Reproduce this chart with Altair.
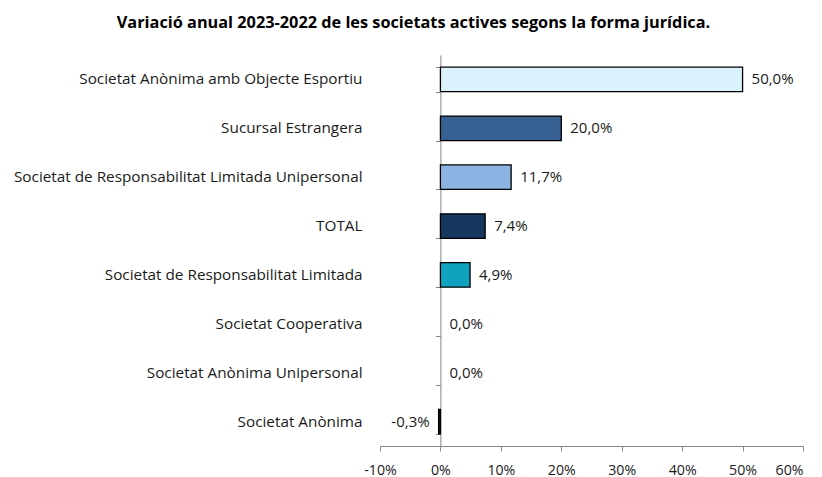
import altair as alt
import pandas as pd

categories = [
    "Societat Anònima amb Objecte Esportiu",
    "Sucursal Estrangera",
    "Societat de Responsabilitat Limitada Unipersonal",
    "TOTAL",
    "Societat de Responsabilitat Limitada",
    "Societat Cooperativa",
    "Societat Anònima Unipersonal",
    "Societat Anònima",
]
values = [50.0, 20.0, 11.7, 7.4, 4.9, 0.0, 0.0, -0.3]
colors = ["#DAF2FC", "#376092", "#8DB3E2", "#17375E", "#0FA3C0", "#1a1a1a", "#1a1a1a", "#1a1a1a"]
x_ticks = [-10, 0, 10, 20, 30, 40, 50, 60]

df = pd.DataFrame({"cat": categories, "v": values, "col": colors})

FONT = "Open Sans"
AXIS_GRAY = "#868686"
W, H = 423, 391

base = alt.Chart(df).transform_calculate(
    lab="replace(replace(format(datum.v/100, '.1%'), '.', ','), '\u2212', '-')"
)

yscale = alt.Scale(domain=categories, paddingInner=0.5, paddingOuter=0.25)
xscale = alt.Scale(domain=[-10, 60], nice=False)

bars = base.transform_filter("datum.v != 0").mark_bar(
    stroke="#000000", strokeWidth=1.3
).encode(
    x=alt.X("v:Q", scale=xscale, axis=alt.Axis(
        values=x_ticks,
        labelExpr="datum.value + '%'",
        grid=False, domainColor=AXIS_GRAY, tickColor=AXIS_GRAY,
        tickSize=5, labelPadding=12, labelFont=FONT, labelFontSize=14.2,
        labelColor="#1a1a1a", title=None, labelFlush=False,
        labelAlign=alt.ExprRef(expr="datum.value == 60 ? 'right' : 'center'"),
    )),
    y=alt.Y("cat:N", scale=yscale, sort=categories, axis=alt.Axis(
        orient="left", domain=False, ticks=False, tickSize=0, labelPadding=18,
        labelFont=FONT, labelFontSize=15.3, labelColor="#1a1a1a",
        title=None, labelLimit=400,
    )),
    color=alt.Color("col:N", scale=None),
)

yline = base.mark_tick(opacity=0).encode(
    y=alt.Y("cat:N", scale=yscale, sort=categories, axis=alt.Axis(
        orient="left", offset=-60.4, labels=False, domain=True,
        domainColor=AXIS_GRAY, ticks=True, tickColor=AXIS_GRAY, tickSize=5,
        tickBand="extent", title=None, grid=False,
    )),
    x=alt.X("v:Q", scale=xscale, axis=None),
)

text_pos = base.transform_filter("datum.v >= 0").mark_text(
    align="left", dx=9, font=FONT, fontSize=15, color="#1a1a1a"
).encode(
    x=alt.X("v:Q", scale=xscale, axis=None),
    y=alt.Y("cat:N", scale=yscale, sort=categories, axis=None),
    text="lab:N",
)

text_neg = base.transform_filter("datum.v < 0").mark_text(
    align="right", dx=-9, font=FONT, fontSize=15, color="#1a1a1a"
).encode(
    x=alt.X("v:Q", scale=xscale, axis=None),
    y=alt.Y("cat:N", scale=yscale, sort=categories, axis=None),
    text="lab:N",
)

chart = alt.layer(yline, bars, text_pos, text_neg).resolve_axis(
    y="independent", x="independent"
).properties(
    width=W, height=H,
    autosize=alt.AutoSizeParams(type="none"),
    padding={"left": 372, "top": 47, "right": 11, "bottom": 32},
    title=alt.TitleParams(
        "Variació anual 2023-2022  de les societats actives segons la forma jurídica.",
        font=FONT, fontSize=16.3, fontWeight="bold", color="#000000",
        anchor="middle", dx=-178, offset=24,
    ),
).configure_view(stroke=None)

chart.save("out.html", embed_options={"renderer": "svg", "actions": False})
